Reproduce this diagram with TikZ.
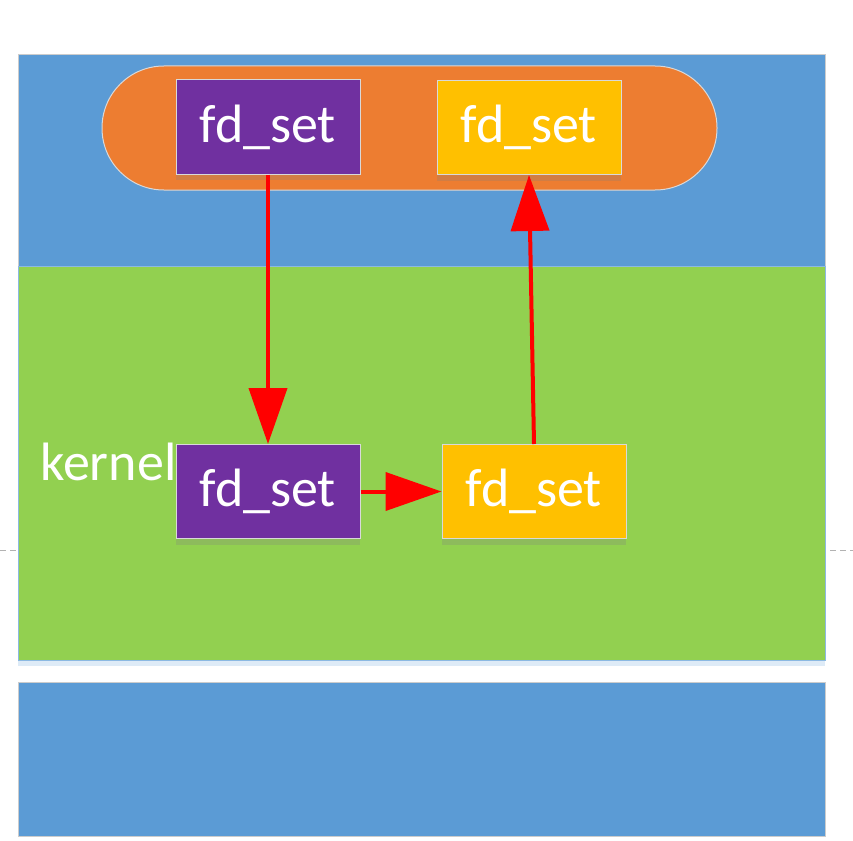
\documentclass[tikz,border=0pt]{standalone}
\usepackage{fontspec}
\setmainfont{Carlito}
\usetikzlibrary{arrows.meta, positioning, shadows}

\definecolor{userblue}{HTML}{5B9BD5}
\definecolor{kernelgreen}{HTML}{92D050}
\definecolor{pillorange}{HTML}{ED7D31}
\definecolor{fdpurple}{HTML}{7030A0}
\definecolor{fdyellow}{HTML}{FFC000}

\begin{document}
\begin{tikzpicture}[
  x=1pt, y=-1pt,
  panel/.style = {draw=gray!40, line width=1pt},
  fdbox/.style = {draw=gray!30, line width=1pt, minimum width=184pt, minimum height=94pt,
                  inner sep=0pt, text=white, font=\fontsize{54}{60}\selectfont,
                  drop shadow={shadow xshift=0pt, shadow yshift=-6pt, opacity=0.25}},
  arrow/.style = {draw=red, line width=4pt, -{Triangle[length=56pt, width=38pt]}}
]
  \useasboundingbox (0,0) rectangle (853,840);

  % guide line
  \draw[gray!60, line width=0.8pt, dash pattern=on 6pt off 4pt] (0,550) -- (853,550);

  % panels
  \fill[panel, fill=userblue] (18,55) rectangle (825,266);
  \fill[panel, fill=kernelgreen, draw=userblue!70,
        drop shadow={shadow xshift=0pt, shadow yshift=-6pt, opacity=0.2, fill=userblue}]
    (18,266) rectangle (825,660);
  \filldraw[panel, fill=userblue] (18,682) rectangle (825,836);

  % user space pill
  \node[draw=gray!30, fill=pillorange, line width=1pt, rounded corners=61.9pt,
        minimum width=615pt, minimum height=124pt] (pill) at (409.5,128) {};

  % fd_set boxes
  \node[fdbox, fill=fdpurple] (userset) at (268,127) {fd\_set};
  \node[fdbox, fill=fdyellow] (userres) at (529,127.5) {fd\_set};
  \node[fdbox, fill=fdpurple] (kset) at (268,491.5) {fd\_set};
  \node[fdbox, fill=fdyellow] (kres) at (534,491.5) {fd\_set};

  \node[anchor=base west, inner sep=0pt, text=white, font=\fontsize{54}{60}\selectfont]
    (kernel) at (40,480) {kernel};

  % arrows
  \draw[arrow] (userset.south) -- (kset.north);
  \draw[arrow] (kset.east) -- (kres.west);
  \draw[arrow] (kres.north) -- (userres.south);
\end{tikzpicture}
\end{document}
